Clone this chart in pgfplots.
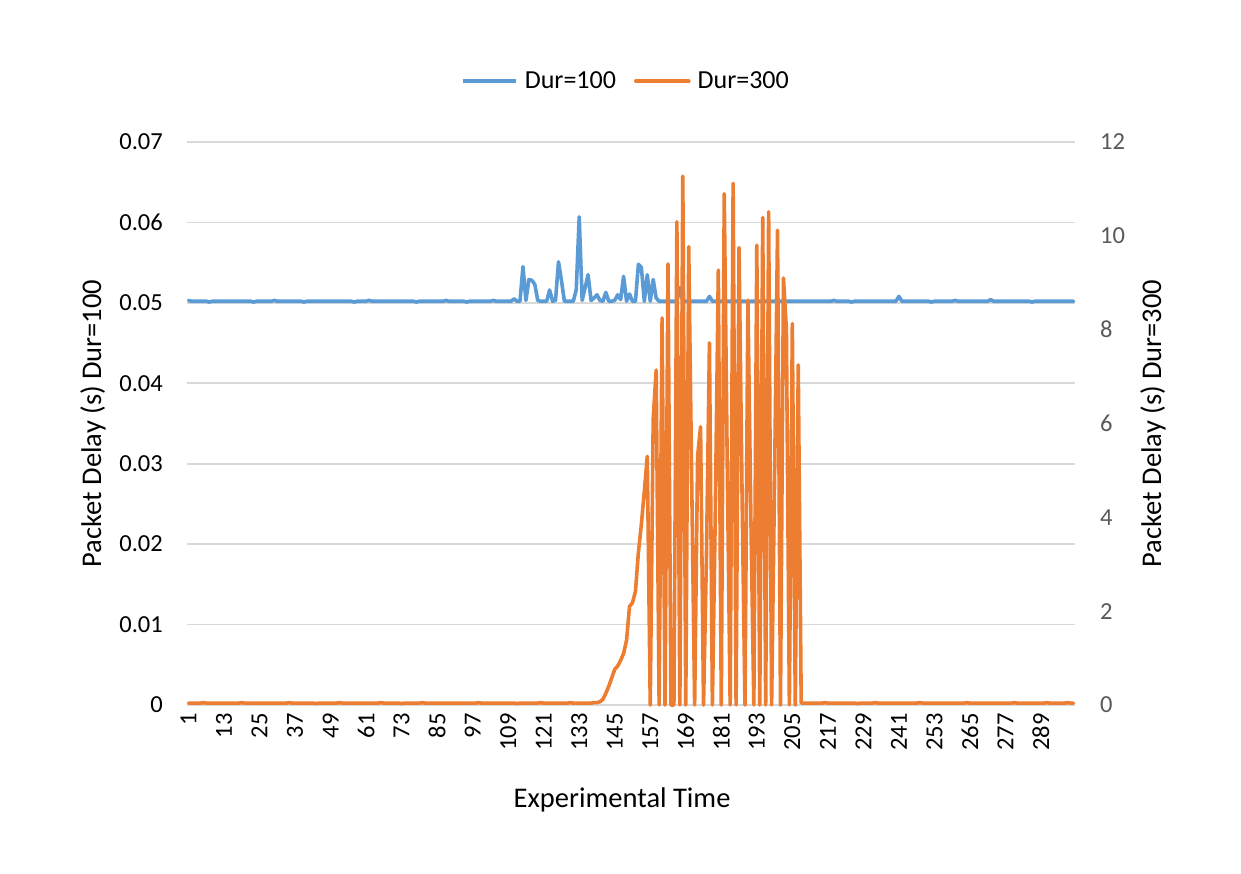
\documentclass[border=0pt]{standalone}
\usepackage{fontspec}
\setmainfont{Carlito}
\usepackage{pgfplots}
\usepackage{pgfplotstable}
\pgfplotsset{compat=1.18}

\definecolor{durA}{RGB}{91,155,213}
\definecolor{durB}{RGB}{237,125,49}
\definecolor{gridgray}{RGB}{217,217,217}
\definecolor{labelgray}{RGB}{89,89,89}

% columns: time step, delay for Dur=100 (s), delay for Dur=300 (s)
\pgfplotstableread[row sep=\\]{
t d100 d300\\
1 0.0503 0.04\\ 2 0.0502 0.04\\ 3 0.0502 0.04\\ 4 0.0502 0.04\\ 5 0.0502 0.04\\ 6 0.0502 0.05\\
7 0.0502 0.04\\ 8 0.0501 0.04\\ 9 0.0502 0.04\\ 10 0.0502 0.04\\ 11 0.0502 0.04\\ 12 0.0502 0.04\\
13 0.0502 0.04\\ 14 0.0502 0.04\\ 15 0.0502 0.04\\ 16 0.0502 0.04\\ 17 0.0502 0.04\\ 18 0.0502 0.04\\
19 0.0502 0.05\\ 20 0.0502 0.04\\ 21 0.0502 0.04\\ 22 0.0502 0.04\\ 23 0.0501 0.04\\ 24 0.0502 0.04\\
25 0.0502 0.04\\ 26 0.0502 0.04\\ 27 0.0502 0.04\\ 28 0.0502 0.04\\ 29 0.0502 0.04\\ 30 0.0503 0.04\\
31 0.0502 0.04\\ 32 0.0502 0.04\\ 33 0.0502 0.04\\ 34 0.0502 0.04\\ 35 0.0502 0.05\\ 36 0.0502 0.04\\
37 0.0502 0.04\\ 38 0.0502 0.04\\ 39 0.0502 0.04\\ 40 0.0501 0.04\\ 41 0.0502 0.04\\ 42 0.0502 0.04\\
43 0.0502 0.04\\ 44 0.0502 0.03\\ 45 0.0502 0.04\\ 46 0.0502 0.04\\ 47 0.0502 0.04\\ 48 0.0502 0.04\\
49 0.0502 0.04\\ 50 0.0502 0.04\\ 51 0.0502 0.04\\ 52 0.0502 0.05\\ 53 0.0502 0.04\\ 54 0.0502 0.04\\
55 0.0502 0.04\\ 56 0.0502 0.04\\ 57 0.0501 0.04\\ 58 0.0502 0.04\\ 59 0.0502 0.04\\ 60 0.0502 0.04\\
61 0.0502 0.04\\ 62 0.0503 0.04\\ 63 0.0502 0.04\\ 64 0.0502 0.04\\ 65 0.0502 0.04\\ 66 0.0502 0.05\\
67 0.0502 0.04\\ 68 0.0502 0.04\\ 69 0.0502 0.04\\ 70 0.0502 0.04\\ 71 0.0502 0.04\\ 72 0.0502 0.04\\
73 0.0502 0.03\\ 74 0.0502 0.04\\ 75 0.0502 0.04\\ 76 0.0502 0.04\\ 77 0.0502 0.04\\ 78 0.0501 0.04\\
79 0.0502 0.04\\ 80 0.0502 0.05\\ 81 0.0502 0.04\\ 82 0.0502 0.04\\ 83 0.0502 0.04\\ 84 0.0502 0.04\\
85 0.0502 0.04\\ 86 0.0502 0.04\\ 87 0.0502 0.04\\ 88 0.0503 0.04\\ 89 0.0502 0.04\\ 90 0.0502 0.04\\
91 0.0502 0.04\\ 92 0.0502 0.04\\ 93 0.0502 0.04\\ 94 0.0502 0.04\\ 95 0.0501 0.04\\ 96 0.0502 0.04\\
97 0.0502 0.04\\ 98 0.0502 0.04\\ 99 0.0502 0.05\\ 100 0.0502 0.04\\ 101 0.0502 0.04\\ 102 0.0502 0.04\\
103 0.0502 0.04\\ 104 0.0503 0.04\\ 105 0.0502 0.04\\ 106 0.0502 0.04\\ 107 0.0502 0.04\\ 108 0.0502 0.04\\
109 0.0502 0.04\\ 110 0.0502 0.04\\ 111 0.0505 0.04\\ 112 0.0502 0.03\\ 113 0.0502 0.04\\ 114 0.0545 0.04\\
115 0.0503 0.04\\ 116 0.0529 0.04\\ 117 0.0528 0.04\\ 118 0.0523 0.04\\ 119 0.0503 0.04\\ 120 0.0502 0.05\\
121 0.0502 0.04\\ 122 0.0502 0.04\\ 123 0.0516 0.04\\ 124 0.0502 0.04\\ 125 0.0503 0.04\\ 126 0.0551 0.04\\
127 0.0528 0.04\\ 128 0.0502 0.04\\ 129 0.0502 0.04\\ 130 0.0502 0.05\\ 131 0.0502 0.04\\ 132 0.0516 0.04\\
133 0.0607 0.04\\ 134 0.0503 0.04\\ 135 0.0519 0.04\\ 136 0.0535 0.04\\ 137 0.0503 0.04\\ 138 0.0506 0.05\\
139 0.0510 0.05\\ 140 0.0503 0.07\\ 141 0.0502 0.12\\ 142 0.0513 0.25\\ 143 0.0502 0.40\\ 144 0.0502 0.58\\
145 0.0503 0.76\\ 146 0.0510 0.83\\ 147 0.0504 0.95\\ 148 0.0533 1.10\\ 149 0.0502 1.38\\ 150 0.0511 2.10\\
151 0.0502 2.18\\ 152 0.0502 2.42\\ 153 0.0548 3.25\\ 154 0.0544 3.85\\ 155 0.0502 4.55\\ 156 0.0535 5.30\\
157 0.0502 0\\ 158 0.0529 6.10\\ 159 0.0506 7.14\\ 160 0.0502 0\\ 161 0.0502 8.25\\ 162 0.0502 0\\
163 0.0502 9.40\\ 164 0.0502 0\\ 165 0.0502 0\\ 166 0.0502 10.30\\ 167 0.0519 0\\ 168 0.0502 11.27\\
169 0.0502 0\\ 170 0.0502 9.77\\ 171 0.0502 4.80\\ 172 0.0502 0\\ 173 0.0502 5.30\\ 174 0.0502 5.93\\
175 0.0502 0\\ 176 0.0502 3.20\\ 177 0.0508 7.72\\ 178 0.0502 0\\ 179 0.0502 4.20\\ 180 0.0502 9.27\\
181 0.0502 0\\ 182 0.0502 10.90\\ 183 0.0502 5.20\\ 184 0.0502 0\\ 185 0.0502 11.12\\ 186 0.0502 0\\
187 0.0502 9.75\\ 188 0.0502 4.60\\ 189 0.0502 0\\ 190 0.0501 8.63\\ 191 0.0502 4.00\\ 192 0.0502 0\\
193 0.0502 9.80\\ 194 0.0502 0\\ 195 0.0502 10.39\\ 196 0.0502 0\\ 197 0.0502 10.51\\ 198 0.0502 0\\
199 0.0502 4.80\\ 200 0.0502 10.12\\ 201 0.0502 0\\ 202 0.0502 9.10\\ 203 0.0502 8.00\\ 204 0.0502 0\\
205 0.0502 8.13\\ 206 0.0502 0\\ 207 0.0502 7.25\\ 208 0.0502 0.04\\ 209 0.0502 0.04\\ 210 0.0502 0.04\\
211 0.0502 0.04\\ 212 0.0502 0.04\\ 213 0.0502 0.04\\ 214 0.0502 0.04\\ 215 0.0502 0.04\\ 216 0.0502 0.05\\
217 0.0502 0.04\\ 218 0.0502 0.04\\ 219 0.0503 0.04\\ 220 0.0502 0.04\\ 221 0.0502 0.04\\ 222 0.0502 0.04\\
223 0.0502 0.04\\ 224 0.0502 0.04\\ 225 0.0501 0.04\\ 226 0.0502 0.04\\ 227 0.0502 0.03\\ 228 0.0502 0.04\\
229 0.0502 0.04\\ 230 0.0502 0.04\\ 231 0.0502 0.04\\ 232 0.0502 0.04\\ 233 0.0502 0.05\\ 234 0.0502 0.04\\
235 0.0502 0.04\\ 236 0.0502 0.04\\ 237 0.0502 0.04\\ 238 0.0502 0.04\\ 239 0.0502 0.04\\ 240 0.0502 0.04\\
241 0.0508 0.04\\ 242 0.0502 0.04\\ 243 0.0502 0.04\\ 244 0.0502 0.04\\ 245 0.0502 0.04\\ 246 0.0502 0.04\\
247 0.0502 0.04\\ 248 0.0502 0.05\\ 249 0.0502 0.04\\ 250 0.0502 0.04\\ 251 0.0502 0.04\\ 252 0.0501 0.04\\
253 0.0502 0.04\\ 254 0.0502 0.04\\ 255 0.0502 0.04\\ 256 0.0502 0.04\\ 257 0.0502 0.04\\ 258 0.0502 0.04\\
259 0.0502 0.04\\ 260 0.0503 0.04\\ 261 0.0502 0.04\\ 262 0.0502 0.04\\ 263 0.0502 0.04\\ 264 0.0502 0.05\\
265 0.0502 0.04\\ 266 0.0502 0.04\\ 267 0.0502 0.04\\ 268 0.0502 0.04\\ 269 0.0502 0.04\\ 270 0.0502 0.04\\
271 0.0502 0.04\\ 272 0.0504 0.04\\ 273 0.0502 0.04\\ 274 0.0502 0.04\\ 275 0.0502 0.04\\ 276 0.0502 0.04\\
277 0.0502 0.04\\ 278 0.0502 0.04\\ 279 0.0502 0.04\\ 280 0.0502 0.05\\ 281 0.0502 0.04\\ 282 0.0502 0.04\\
283 0.0502 0.04\\ 284 0.0502 0.04\\ 285 0.0502 0.04\\ 286 0.0501 0.04\\ 287 0.0502 0.04\\ 288 0.0502 0.04\\
289 0.0502 0.04\\ 290 0.0502 0.04\\ 291 0.0502 0.05\\ 292 0.0502 0.04\\ 293 0.0502 0.04\\ 294 0.0502 0.04\\
295 0.0502 0.04\\ 296 0.0502 0.04\\ 297 0.0502 0.04\\ 298 0.0502 0.05\\ 299 0.0502 0.04\\ 300 0.0502 0.04\\
}\delaydata

\pgfplotsset{
  delay axis/.style={
    at={(0pt,0pt)}, anchor=south west,
    width=888pt, height=563pt, scale only axis,
    xmin=0.5, xmax=300.5, ymin=0,
    axis line style={draw=none},
    major tick length=0pt,
    clip=false,
    scaled y ticks=false,
    /pgf/number format/assume math mode=true,
    tick label style={font=\fontsize{24.5}{29}\selectfont},
    label style={font=\fontsize{28.5}{34}\selectfont},
  },
}

\begin{document}
\begin{tikzpicture}
\path[use as bounding box] (-187pt,-169pt) rectangle (1054pt,705pt);

% primary axis: Dur=100
\begin{axis}[delay axis,
  ymax=0.07,
  ytick={0,0.01,0.02,0.03,0.04,0.05,0.06,0.07},
  yticklabels={0,0.01,0.02,0.03,0.04,0.05,0.06,0.07},
  ytick pos=left, xtick pos=bottom,
  ymajorgrids, grid style={gridgray, line width=1.8pt},
  yticklabel style={anchor=east, inner sep=0pt, xshift=-24pt},
  xtick={1,13,...,289},
  xticklabel style={yshift=-8pt, rotate=90, anchor=east, inner sep=0pt},
  xlabel={Experimental Time},
  x label style={at={(axis description cs:0.49,-0.169)}, anchor=center},
  ylabel={Packet Delay (s) Dur=100},
  y label style={at={(axis description cs:-0.1059,0.5)}, anchor=center, rotate=0},
]
\addplot[durA, line width=3.6pt, line join=round, line cap=round] table[x=t, y=d100] {\delaydata};
\end{axis}

% secondary axis: Dur=300
\begin{axis}[delay axis,
  ymax=12,
  ytick={0,2,4,6,8,10,12},
  yticklabels={0,2,4,6,8,10,12},
  axis y line*=right,
  hide x axis,
  yticklabel style={labelgray, anchor=west, inner sep=0pt, xshift=25pt},
  ylabel={Packet Delay (s) Dur=300},
  y label style={at={(axis description cs:1.0878,0.5)}, anchor=center, rotate=0},
  legend columns=2,
  legend style={at={(axis description cs:0.4944,1.108)}, anchor=center,
    draw=none, fill=none, font=\fontsize{26}{31}\selectfont,
    /tikz/every odd column/.append style={column sep=5pt},
    /tikz/every even column/.append style={column sep=16pt}},
  legend image code/.code={\draw[#1] (0pt,0pt) -- (53pt,0pt);},
]
\addlegendimage{durA, line width=3.6pt}
\addlegendentry{Dur=100}
\addplot[durB, line width=3.6pt, line join=round, line cap=round] table[x=t, y=d300] {\delaydata};
\addlegendentry{Dur=300}
\end{axis}
\end{tikzpicture}
\end{document}
